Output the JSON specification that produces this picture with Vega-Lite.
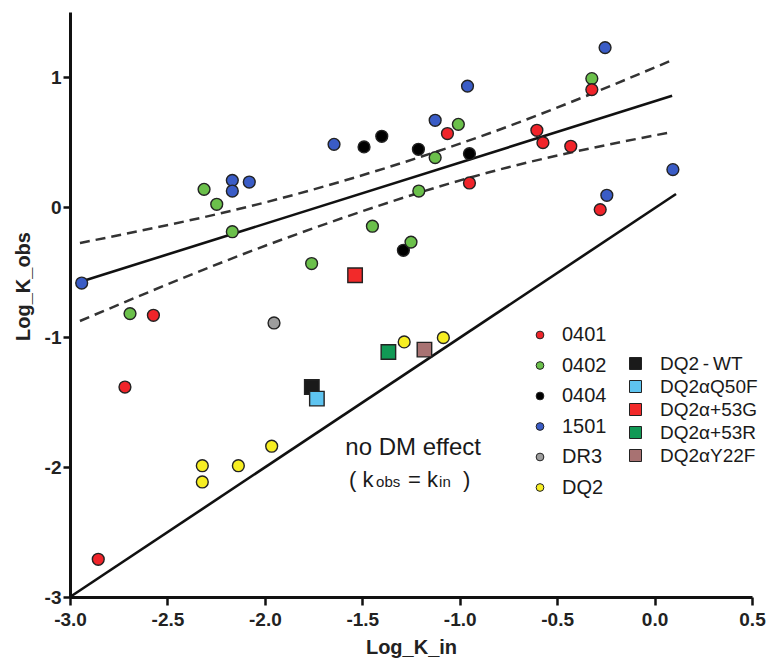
{
  "$schema": "https://vega.github.io/schema/vega-lite/v6.json",
  "width": 682,
  "height": 585,
  "autosize": {"type": "none"},
  "padding": {"left": 70, "top": 12, "right": 16, "bottom": 65},
  "background": "white",
  "config": {"view": {"stroke": null}, "font": "Liberation Sans", "axis": {"grid": false}},
  "datasets": {
    "solid": [
      {"line": "identity", "x": -3, "y": -3},
      {"line": "identity", "x": 0.11, "y": 0.1},
      {"line": "fit", "x": -2.95, "y": -0.577},
      {"line": "fit", "x": 0.09, "y": 0.855}
    ],
    "bands": [
      {"band": "upper", "x": -2.949, "y": -0.277},
      {"band": "upper", "x": -1.922, "y": 0.065},
      {"band": "upper", "x": -0.844, "y": 0.569},
      {"band": "upper", "x": 0.097, "y": 1.134},
      {"band": "lower", "x": -2.949, "y": -0.877},
      {"band": "lower", "x": -1.922, "y": -0.256},
      {"band": "lower", "x": -0.844, "y": 0.269},
      {"band": "lower", "x": 0.089, "y": 0.577}
    ],
    "alleles": [
      {"allele": "0402", "x": -2.312, "y": 0.136},
      {"allele": "0402", "x": -2.247, "y": 0.021},
      {"allele": "0402", "x": -2.167, "y": -0.19},
      {"allele": "0402", "x": -2.692, "y": -0.82},
      {"allele": "0402", "x": -1.007, "y": 0.636},
      {"allele": "0402", "x": -1.126, "y": 0.38},
      {"allele": "0402", "x": -1.21, "y": 0.123},
      {"allele": "0402", "x": -1.448, "y": -0.148},
      {"allele": "0402", "x": -1.76, "y": -0.435},
      {"allele": "0402", "x": -0.322, "y": 0.988},
      {"allele": "0404", "x": -1.491, "y": 0.462},
      {"allele": "0404", "x": -1.4, "y": 0.544},
      {"allele": "0404", "x": -1.212, "y": 0.444},
      {"allele": "0404", "x": -0.95, "y": 0.41},
      {"allele": "0404", "x": -1.289, "y": -0.333},
      {"allele": "0402", "x": -1.25, "y": -0.27},
      {"allele": "0401", "x": -2.572, "y": -0.833},
      {"allele": "0401", "x": -1.063, "y": 0.565},
      {"allele": "0401", "x": -0.95, "y": 0.185},
      {"allele": "0401", "x": -0.322, "y": 0.903},
      {"allele": "0401", "x": -0.604, "y": 0.59},
      {"allele": "0401", "x": -0.573, "y": 0.495},
      {"allele": "0401", "x": -0.43, "y": 0.467},
      {"allele": "0401", "x": -0.279, "y": -0.02},
      {"allele": "0401", "x": -2.718, "y": -1.385},
      {"allele": "0401", "x": -2.855, "y": -2.71},
      {"allele": "1501", "x": -2.94, "y": -0.585},
      {"allele": "1501", "x": -2.167, "y": 0.205},
      {"allele": "1501", "x": -2.167, "y": 0.123},
      {"allele": "1501", "x": -2.08, "y": 0.192},
      {"allele": "1501", "x": -0.96, "y": 0.93},
      {"allele": "1501", "x": -1.126, "y": 0.667},
      {"allele": "1501", "x": -1.645, "y": 0.482},
      {"allele": "1501", "x": -0.254, "y": 1.226},
      {"allele": "1501", "x": 0.094, "y": 0.288},
      {"allele": "1501", "x": -0.245, "y": 0.09},
      {"allele": "DR3", "x": -1.953, "y": -0.892},
      {"allele": "DQ2", "x": -2.321, "y": -1.99},
      {"allele": "DQ2", "x": -2.321, "y": -2.115},
      {"allele": "DQ2", "x": -2.136, "y": -1.99},
      {"allele": "DQ2", "x": -1.965, "y": -1.84},
      {"allele": "DQ2", "x": -1.285, "y": -1.038},
      {"allele": "DQ2", "x": -1.084, "y": -1.005}
    ],
    "variants": [
      {"variant": "DQ2\u2009-\u2009WT", "x": -1.759, "y": -1.385},
      {"variant": "DQ2αQ50F", "x": -1.733, "y": -1.474},
      {"variant": "DQ2α+53G", "x": -1.537, "y": -0.525},
      {"variant": "DQ2α+53R", "x": -1.366, "y": -1.115},
      {"variant": "DQ2αY22F", "x": -1.181, "y": -1.097}
    ],
    "bigText": [
      {"t": "no DM effect", "x": -1.239, "y": -1.911}
    ],
    "eqText": [
      {"t": "( k", "x": -1.568, "y": -2.154},
      {"t": "= k", "x": -1.265, "y": -2.154},
      {"t": ")", "x": -0.983, "y": -2.154}
    ],
    "subText": [
      {"t": "obs", "x": -1.429, "y": -2.154},
      {"t": "in", "x": -1.106, "y": -2.154}
    ]
  },
  "encoding": {
    "x": {
      "field": "x", "type": "quantitative",
      "scale": {"domain": [-3, 0.5], "nice": false, "zero": false},
      "axis": {
        "title": "Log_K_in",
        "values": [-3, -2.5, -2, -1.5, -1, -0.5, 0, 0.5],
        "labelExpr": "replace(format(datum.value, '.1f'), '\u2212', '-')",
        "domainColor": "#111", "domainWidth": 3,
        "tickColor": "#111", "tickWidth": 2.5, "tickSize": 8,
        "labelFont": "Liberation Sans", "labelFontWeight": "bold", "labelFontSize": 19, "labelColor": "#222",
        "labelPadding": 5, "labelFlush": false, "labelOverlap": false, "labelBound": false,
        "titleFont": "Liberation Sans", "titleFontWeight": "bold", "titleFontSize": 20, "titleColor": "#222",
        "titlePadding": 8
      }
    },
    "y": {
      "field": "y", "type": "quantitative",
      "scale": {"domain": [-3, 1.5], "nice": false, "zero": false},
      "axis": {
        "title": "Log_K_obs",
        "values": [-3, -2, -1, 0, 1],
        "labelExpr": "replace(format(datum.value, 'd'), '\u2212', '-')",
        "domainColor": "#111", "domainWidth": 3,
        "tickColor": "#111", "tickWidth": 2.5, "tickSize": 7,
        "labelFont": "Liberation Sans", "labelFontWeight": "bold", "labelFontSize": 19, "labelColor": "#222",
        "labelPadding": 2, "labelFlush": false, "labelOverlap": false, "labelBound": false,
        "titleFont": "Liberation Sans", "titleFontWeight": "bold", "titleFontSize": 20, "titleColor": "#222",
        "titleAngle": 270, "titleX": -41, "titleY": 274, "titleAlign": "center", "titleBaseline": "alphabetic"
      }
    }
  },
  "layer": [
    {
      "data": {"name": "solid"},
      "mark": {"type": "line", "color": "#111", "strokeWidth": 2.6},
      "encoding": {"detail": {"field": "line"}}
    },
    {
      "data": {"name": "bands"},
      "mark": {"type": "line", "color": "#333", "strokeWidth": 2.5, "strokeDash": [10, 6], "interpolate": "monotone"},
      "encoding": {"detail": {"field": "band"}}
    },
    {
      "data": {"name": "alleles"},
      "mark": {"type": "point", "shape": "circle", "filled": true, "size": 140, "stroke": "#222", "strokeWidth": 1.4, "opacity": 1},
      "encoding": {
        "color": {
          "field": "allele", "type": "nominal",
          "scale": {"domain": ["0401", "0402", "0404", "1501", "DR3", "DQ2"], "range": ["#f0242a", "#6bc04b", "#000000", "#3a5cc6", "#9d9d9d", "#f7ee22"]},
          "legend": {
            "orient": "none", "legendX": 460, "legendY": 313, "title": null, "padding": 0,
            "symbolType": "circle", "symbolSize": 60, "symbolStrokeColor": "#222", "symbolStrokeWidth": 1, "symbolOpacity": 1,
            "labelFont": "Liberation Sans", "labelFontSize": 20, "labelColor": "#1a1a1a", "labelOffset": 12, "rowPadding": 10.5
          }
        }
      }
    },
    {
      "data": {"name": "variants"},
      "mark": {"type": "point", "shape": "square", "filled": true, "size": 210, "stroke": "#222", "strokeWidth": 1.4, "opacity": 1},
      "encoding": {
        "color": {
          "field": "variant", "type": "nominal",
          "scale": {"domain": ["DQ2\u2009-\u2009WT", "DQ2αQ50F", "DQ2α+53G", "DQ2α+53R", "DQ2αY22F"], "range": ["#1a1a1a", "#5ec4f0", "#f22a2a", "#119955", "#a87272"]},
          "legend": {
            "orient": "none", "legendX": 556, "legendY": 342, "title": null, "padding": 0,
            "symbolType": "square", "symbolSize": 144, "symbolStrokeColor": "#222", "symbolStrokeWidth": 1, "symbolOpacity": 1,
            "labelFont": "Liberation Sans", "labelFontSize": 19, "labelColor": "#1a1a1a", "labelOffset": 15, "rowPadding": 3
          }
        }
      }
    },
    {
      "data": {"name": "bigText"},
      "mark": {"type": "text", "font": "Liberation Sans", "fontSize": 24, "align": "center", "baseline": "alphabetic", "color": "#1a1a1a"},
      "encoding": {"text": {"field": "t"}}
    },
    {
      "data": {"name": "eqText"},
      "mark": {"type": "text", "font": "Liberation Sans", "fontSize": 22, "align": "left", "baseline": "alphabetic", "color": "#1a1a1a"},
      "encoding": {"text": {"field": "t"}}
    },
    {
      "data": {"name": "subText"},
      "mark": {"type": "text", "font": "Liberation Sans", "fontSize": 15, "align": "left", "baseline": "alphabetic", "color": "#1a1a1a"},
      "encoding": {"text": {"field": "t"}}
    }
  ],
  "resolve": {"scale": {"color": "independent"}}
}
